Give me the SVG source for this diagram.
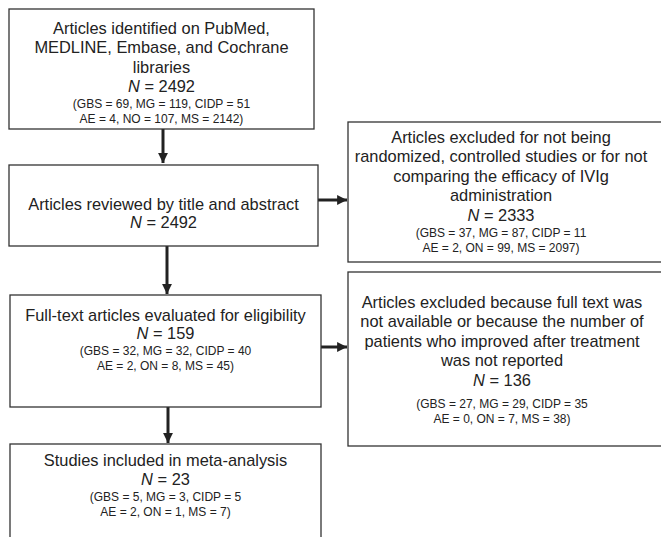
<svg xmlns="http://www.w3.org/2000/svg" width="661" height="537" viewBox="0 0 661 537">
<style>
.box{fill:#fff;stroke:#333;stroke-width:1.3}
.t{font-family:"Liberation Sans",Arial,sans-serif;font-size:16.4px;fill:#222;text-anchor:middle}
.s{font-family:"Liberation Sans",Arial,sans-serif;font-size:12px;fill:#222;text-anchor:middle}
.i{font-style:italic}
.c{stroke:#222;stroke-width:3;fill:none}
</style>
<defs>
<marker id="ah" viewBox="0 0 10 10" refX="10" refY="5" markerWidth="3.3" markerHeight="3.3" orient="auto" markerUnits="strokeWidth">
<path d="M0,0 L10,5 L0,10 z" fill="#222"/>
</marker>
</defs>
<rect width="661" height="537" fill="#fff"/>
<g id="connectors">
<line class="c" x1="163" y1="129" x2="163" y2="163" marker-end="url(#ah)"/>
<line class="c" x1="167" y1="246" x2="167" y2="294" marker-end="url(#ah)"/>
<line class="c" x1="168" y1="407" x2="168" y2="443" marker-end="url(#ah)"/>
<line class="c" x1="318" y1="200" x2="347" y2="200" marker-end="url(#ah)"/>
<line class="c" x1="321" y1="347" x2="347" y2="347" marker-end="url(#ah)"/>
</g>
<g id="n1">
<rect class="box" x="9" y="9" width="305" height="120"/>
<text class="t" x="161.5" y="33.5">Articles identified on PubMed,</text>
<text class="t" x="161.5" y="53">MEDLINE, Embase, and Cochrane</text>
<text class="t" x="161.5" y="72.5">libraries</text>
<text class="t" x="161.5" y="92"><tspan class="i">N</tspan> = 2492</text>
<text class="s" x="161.5" y="108">(GBS = 69, MG = 119, CIDP = 51</text>
<text class="s" x="161.5" y="123">AE = 4, NO = 107, MS = 2142)</text>
</g>
<g id="n2">
<rect class="box" x="9" y="165" width="309" height="81"/>
<text class="t" x="163.5" y="209.5">Articles reviewed by title and abstract</text>
<text class="t" x="163.5" y="227.5"><tspan class="i">N</tspan> = 2492</text>
</g>
<g id="n3">
<rect class="box" x="10" y="295" width="311" height="112"/>
<text class="t" x="165.5" y="320.5">Full-text articles evaluated for eligibility</text>
<text class="t" x="165.5" y="338.5"><tspan class="i">N</tspan> = 159</text>
<text class="s" x="165.5" y="355">(GBS = 32, MG = 32, CIDP = 40</text>
<text class="s" x="165.5" y="370">AE = 2, ON = 8, MS = 45)</text>
</g>
<g id="n4">
<rect class="box" x="10" y="444" width="311" height="100"/>
<text class="t" x="165.5" y="465.5">Studies included in meta-analysis</text>
<text class="t" x="165.5" y="484.5"><tspan class="i">N</tspan> = 23</text>
<text class="s" x="165.5" y="501">(GBS = 5, MG = 3, CIDP = 5</text>
<text class="s" x="165.5" y="516">AE = 2, ON = 1, MS = 7)</text>
</g>
<g id="n5">
<rect class="box" x="348" y="122" width="320" height="140"/>
<text class="t" x="501" y="142.5">Articles excluded for not being</text>
<text class="t" x="501" y="162">randomized, controlled studies or for not</text>
<text class="t" x="501" y="181.5">comparing the efficacy of IVIg</text>
<text class="t" x="501" y="201">administration</text>
<text class="t" x="501" y="220.5"><tspan class="i">N</tspan> = 2333</text>
<text class="s" x="501" y="237">(GBS = 37, MG = 87, CIDP = 11</text>
<text class="s" x="501" y="252">AE = 2, ON = 99, MS = 2097)</text>
</g>
<g id="n6">
<rect class="box" x="348" y="272" width="320" height="174"/>
<text class="t" x="502" y="307.5">Articles excluded because full text was</text>
<text class="t" x="502" y="327">not available or because the number of</text>
<text class="t" x="502" y="346.5">patients who improved after treatment</text>
<text class="t" x="502" y="366">was not reported</text>
<text class="t" x="502" y="385.5"><tspan class="i">N</tspan> = 136</text>
<text class="s" x="502" y="408">(GBS = 27, MG = 29, CIDP = 35</text>
<text class="s" x="502" y="423">AE = 0, ON = 7, MS = 38)</text>
</g>
</svg>
